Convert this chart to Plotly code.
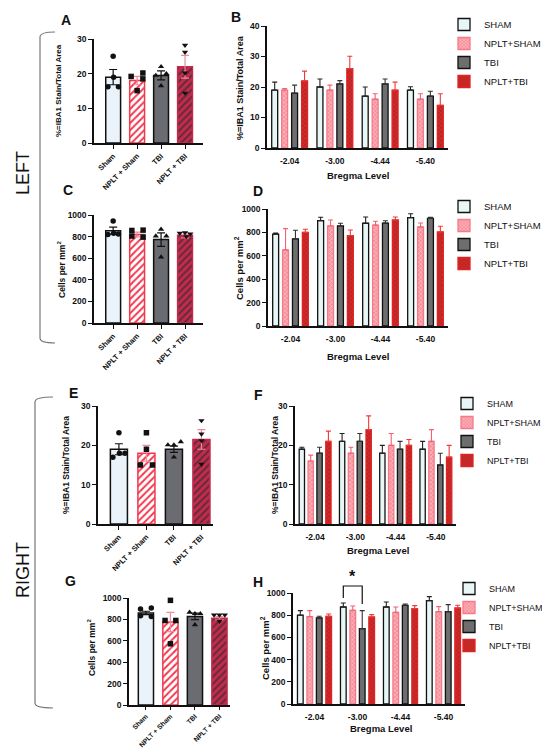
import plotly.graph_objects as go

W, H = 550, 748
FONT = "Liberation Sans, Arial, sans-serif"

GROUPS = ["Sham", "NPLT + Sham", "TBI", "NPLT + TBI"]
SERIES = ["SHAM", "NPLT+SHAM", "TBI", "NPLT+TBI"]
BREGMA = ["-2.04", "-3.00", "-4.44", "-5.40"]

# A: left hemisphere, IBA1 % area, whole region
a_mean = [19, 18, 19.5, 22]
a_sem = [2.2, 1.2, 1.3, 3.3]
a_points = [[25, 16.2, 19, 16.2], [19.2, 20.2, 15.1, 18.5], [22, 19.5, 20, 16.5], [28.2, 26.2, 20.2, 14.4]]

# B: left hemisphere, IBA1 % area by bregma level
b_mean = [[19, 20, 17, 19], [19, 19, 16, 16], [18, 21, 21, 17], [22, 26, 19, 14]]
b_sem = [[2.6, 2.6, 3, 1.1], [0.5, 1.6, 1.8, 1.8], [2.6, 1.1, 1.6, 1.6], [3.2, 4.1, 2.6, 3.8]]

# C: left hemisphere, cells per mm2, whole region
c_mean = [855, 820, 772, 812]
c_sem = [32, 22, 62, 25]
c_points = [[944, 820, 830, 825], [857, 860, 805, 795], [867, 805, 805, 610], [832, 836, 825, 800]]

# D: left hemisphere, cells per mm2 by bregma level
d_mean = [[785, 900, 878, 926], [650, 855, 862, 846], [745, 855, 880, 920], [800, 773, 906, 804]]
d_sem = [[10, 29, 54, 34], [182, 51, 33, 34], [74, 23, 20, 9], [27, 48, 26, 48]]

# E: right hemisphere, IBA1 % area, whole region
e_mean = [19, 18, 19, 21.5]
e_sem = [1.4, 2, 0.8, 2.5]
e_points = [[23.2, 17, 18, 18], [23.2, 19, 15, 15], [20.1, 20.1, 20.9, 17], [26.3, 22.9, 21.2, 15.2]]

# F: right hemisphere, IBA1 % area by bregma level
f_mean = [[19, 21, 18, 19], [16, 18, 20, 21], [18, 21, 19, 15], [21, 24, 20, 17]]
f_sem = [[0.5, 2, 2, 2], [1.5, 1.5, 3, 3], [1.5, 2, 2, 3], [2.6, 3.5, 1.5, 3]]

# G: right hemisphere, cells per mm2, whole region
g_mean = [860, 775, 828, 810]
g_sem = [16, 90, 30, 15]
g_points = [[897, 906, 834, 828], [978, 790, 790, 572], [866, 853, 853, 750], [842, 842, 842, 783]]

# H: right hemisphere, cells per mm2 by bregma level
h_mean = [[800, 874, 874, 931], [787, 844, 826, 832], [775, 679, 889, 832], [790, 784, 859, 865]]
h_sem = [[41, 36, 45, 36], [54, 39, 48, 45], [15, 162, 12, 63], [21, 21, 27, 24]]

SYMBOLS = ["circle", "square", "triangle-up", "triangle-down"]

SINGLE_STYLE = [
    dict(color="#EAF3FA", line="#111111", pattern={}, err="#111111"),
    dict(color="#FFFFFF", line="#F2384F",
         pattern=dict(shape="/", fgcolor="#F2384F", bgcolor="#FFFFFF", size=5, solidity=0.4), err="#F58A98"),
    dict(color="#6B6C71", line="#111111", pattern={}, err="#111111"),
    dict(color="#C42A4C", line="#C42A4C",
         pattern=dict(shape="/", fgcolor="#5E2C3A", bgcolor="#C42A4C", size=5, solidity=0.4), err="#F08A9A"),
]

GROUP_STYLE = [
    dict(color="#E9F6F6", line="#111111", pattern={}, err="#222222"),
    dict(color="#F7909C", line="#F57A88",
         pattern=dict(shape="x", fgcolor="#FFD6DA", bgcolor="#F7909C", size=3, solidity=0.3), err="#F26272"),
    dict(color="#6E6E6E", line="#111111", pattern={}, err="#333333"),
    dict(color="#E02424", line="#E02424",
         pattern=dict(shape="x", fgcolor="#6A3434", bgcolor="#E02424", size=3, solidity=0.3), err="#EE3A3A"),
]


def pxx(a, b):
    return [a / W, b / W]


def pxy(bottom, top):
    return [1 - bottom / H, 1 - top / H]


def axis(domain, rng, **kw):
    d = dict(domain=domain, range=rng, showline=True, linecolor="#111", linewidth=1.5,
             showgrid=False, zeroline=False, ticks="outside", ticklen=4, tickwidth=1.2,
             tickcolor="#111", fixedrange=True, automargin=False,
             tickfont=dict(family=FONT, size=8.5, color="#111", weight="bold"))
    d.update(kw)
    return d


def add_single(fig, n, mean, sem, points, jitter):
    xa, ya = f"x{n}", f"y{n}"
    for i in range(len(GROUPS)):
        st = SINGLE_STYLE[i]
        fig.add_trace(go.Bar(
            x=[i], y=[mean[i]], width=0.62, offsetgroup=f"s{n}", xaxis=xa, yaxis=ya,
            marker=dict(color=st["color"], line=dict(color=st["line"], width=1.5), pattern=st["pattern"]),
            error_y=dict(type="data", array=[sem[i]], color=st["err"], thickness=1.2, width=4),
            showlegend=False, hoverinfo="skip",
        ))
        fig.add_trace(go.Scatter(
            x=[i + j for j in jitter[i]], y=points[i], mode="markers", xaxis=xa, yaxis=ya,
            marker=dict(symbol=SYMBOLS[i], size=5.5, color="#111"),
            showlegend=False, cliponaxis=False, hoverinfo="skip",
        ))


def add_grouped(fig, n, means, sems, legend):
    xa, ya = f"x{n}", f"y{n}"
    for k, s in enumerate(SERIES):
        st = GROUP_STYLE[k]
        fig.add_trace(go.Bar(
            x=BREGMA, y=means[k], name=s, xaxis=xa, yaxis=ya, legend=legend,
            marker=dict(color=st["color"], line=dict(color=st["line"], width=1.3), pattern=st["pattern"]),
            error_y=dict(type="data", symmetric=False, array=sems[k], arrayminus=[0] * len(BREGMA),
                         color=st["err"], thickness=1.1, width=2.5),
            hoverinfo="skip",
        ))


def legend_at(x_px, y_px, size):
    return dict(x=x_px / W, y=1 - y_px / H, xanchor="left", yanchor="top",
                font=dict(family=FONT, size=size, color="#111"), bgcolor="rgba(0,0,0,0)",
                itemclick=False, itemdoubleclick=False, tracegroupgap=0, itemwidth=30)


fig = go.Figure()

SPREAD = [0, -0.22, 0.02, 0.22]
COLUMN = [0, 0, 0, 0]
add_single(fig, 1, a_mean, a_sem, a_points, [SPREAD, [-0.25, 0.24, 0, 0.24], [0, -0.22, 0.22, 0], COLUMN])
add_grouped(fig, 2, b_mean, b_sem, "legend")
add_single(fig, 3, c_mean, c_sem, c_points,
           [SPREAD, [-0.22, 0.25, -0.22, 0.25], [0, -0.22, 0.22, 0], [-0.22, 0, 0.22, 0.05]])
add_grouped(fig, 4, d_mean, d_sem, "legend2")
add_single(fig, 5, e_mean, e_sem, e_points,
           [SPREAD, [0, 0, -0.22, 0.22], [-0.22, 0, 0.25, 0], COLUMN])
add_grouped(fig, 6, f_mean, f_sem, "legend3")
add_single(fig, 7, g_mean, g_sem, g_points,
           [[-0.22, 0.22, -0.22, 0.22], [0, -0.22, 0.22, 0], [-0.22, 0, 0.22, 0], [-0.22, 0, 0.22, 0]])
add_grouped(fig, 8, h_mean, h_sem, "legend4")


def cat_x(size):
    return dict(tickvals=list(range(len(GROUPS))), ticktext=GROUPS, tickangle=-45,
                tickfont=dict(family=FONT, size=size, color="#111", weight="bold"))


grp_x = dict(type="category", ticks="", ticklabelstandoff=4)

H_X = pxx(285, 457)
H_Y = pxy(696, 585)
H_XR = [-0.5, 3.5]
H_YR = [0, 1000]

fig.update_layout(
    template="none",
    width=W, height=H, margin=dict(l=0, r=0, t=0, b=0, autoexpand=False),
    paper_bgcolor="white", plot_bgcolor="white",
    barmode="group", bargap=0.12, bargroupgap=0.4,
    font=dict(family=FONT, color="#111"),
    xaxis=axis(pxx(86, 195), [-0.8, 3.75], anchor="y", **cat_x(7.5)),
    yaxis=axis(pxy(135, 31), [0, 30], anchor="x", dtick=10),
    xaxis2=axis(pxx(259, 440), [-0.5, 3.5], anchor="y2", **grp_x),
    yaxis2=axis(pxy(140, 18), [0, 40], anchor="x2", dtick=10),
    xaxis3=axis(pxx(86, 195), [-0.8, 3.75], anchor="y3", **cat_x(7.5)),
    yaxis3=axis(pxy(315, 207), [0, 1000], anchor="x3", dtick=200),
    xaxis4=axis(pxx(260, 440), [-0.5, 3.5], anchor="y4", **grp_x),
    yaxis4=axis(pxy(318, 201), [0, 1000], anchor="x4", dtick=200),
    xaxis5=axis(pxx(90, 205), [-0.76, 3.42], anchor="y5", **cat_x(7.5)),
    yaxis5=axis(pxy(516, 398), [0, 30], anchor="x5", dtick=10),
    xaxis6=axis(pxx(287, 448), [-0.5, 3.5], anchor="y6", **grp_x),
    yaxis6=axis(pxy(516, 398), [0, 30], anchor="x6", dtick=10),
    xaxis7=axis(pxx(121, 222), [-0.69, 3.43], anchor="y7", ticklen=3, **cat_x(6.8)),
    yaxis7=axis(pxy(697, 590), [0, 1000], anchor="x7", dtick=200),
    xaxis8=axis(H_X, H_XR, anchor="y8", **grp_x),
    yaxis8=axis(H_Y, H_YR, anchor="x8", dtick=200),
    legend=legend_at(436, 2, 9.5),
    legend2=legend_at(436, 184, 9.5),
    legend3=legend_at(439, 381, 9),
    legend4=legend_at(441, 566, 9),
)


def note(x, y, text, size, angle=0, bold=True):
    fig.add_annotation(x=x / W, y=1 - y / H, xref="paper", yref="paper", text=text,
                       showarrow=False, textangle=angle, xanchor="center", yanchor="middle",
                       font=dict(family=FONT, size=size, color="#111",
                                 weight="bold" if bold else "normal"))


for letter, x, y in [("A", 58, 12), ("B", 228, 9), ("C", 60, 182), ("D", 250, 183),
                     ("E", 65, 385), ("F", 250, 387), ("G", 62, 573), ("H", 250, 574)]:
    note(x, y, letter, 14)

IBA = "%=IBA1 Stain/Total Area"
CELLS = "Cells per mm<sup>2</sup>"
note(50, 83, IBA, 8, -90)
note(232, 80, IBA, 9, -90)
note(53, 262, CELLS, 8.5, -90)
note(231, 260, CELLS, 9.5, -90)
note(58, 457, IBA, 8.5, -90)
note(267, 457, IBA, 8.5, -90)
note(83, 640, CELLS, 8.5, -90)
note(257, 640, CELLS, 9.5, -90)
for x, y in [(350, 167), (350, 348), (370, 542), (373, 720)]:
    note(x, y, "Bregma Level", 9.5)
note(15, 165, "LEFT", 18, -90, bold=False)
note(15, 562, "RIGHT", 18, -90, bold=False)


def bracket(top, bottom, x0=32, x1=47, r=5):
    pts = (f"M{x1 / W},{1 - top / H} Q{x0 / W},{1 - top / H} {x0 / W},{1 - (top + r) / H} "
           f"L{x0 / W},{1 - (bottom - r) / H} Q{x0 / W},{1 - bottom / H} {x1 / W},{1 - bottom / H}")
    fig.add_shape(type="path", path=pts, xref="paper", yref="paper",
                  line=dict(color="#777", width=1.2))


bracket(24, 335)
bracket(389, 700, x0=27, x1=45)


# significance bracket in H: SHAM vs TBI at bregma -3.00
def h_to_paper(xv, yv):
    px_ = H_X[0] + (xv - H_XR[0]) / (H_XR[1] - H_XR[0]) * (H_X[1] - H_X[0])
    py_ = H_Y[0] + (yv - H_YR[0]) / (H_YR[1] - H_YR[0]) * (H_Y[1] - H_Y[0])
    return px_, py_


slot = (1 - 0.12) / len(SERIES)
xi = BREGMA.index("-3.00")
xs = xi - (1 - 0.12) / 2 + slot / 2
xt = xs + 2 * slot
p = [h_to_paper(xs, 955), h_to_paper(xs, 1063), h_to_paper(xt, 1063), h_to_paper(xt, 900)]
fig.add_shape(type="path", xref="paper", yref="paper",
              path="M" + " L".join(f"{a},{b}" for a, b in p), line=dict(color="#111", width=1.2))
sx, sy = h_to_paper((xs + xt) / 2, 1150)
fig.add_annotation(x=sx, y=sy, xref="paper", yref="paper", text="*", showarrow=False,
                   xanchor="center", yanchor="middle",
                   font=dict(family=FONT, size=16, color="#111", weight="bold"))

fig.write_html("out.html")
